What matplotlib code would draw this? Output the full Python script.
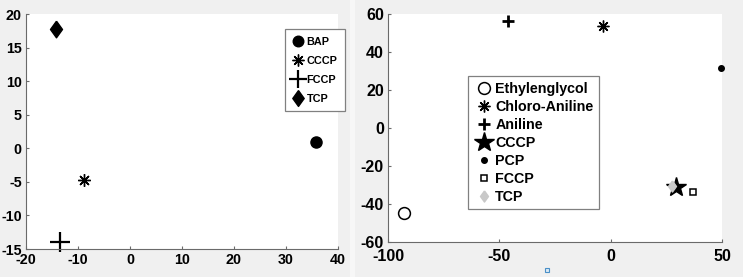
import matplotlib
matplotlib.use("Agg")
import matplotlib.pyplot as plt
from matplotlib.patches import Rectangle

plt.rcParams['font.family'] = ['Liberation Sans', 'DejaVu Sans']
plt.rcParams['font.weight'] = 'bold'
plt.rcParams['axes.unicode_minus'] = False

# ---- Left panel data ----
left_names = ["BAP", "CCCP", "FCCP", "TCP"]
left_x = [35.7, -8.8, -13.4, -14.3]
left_y = [0.9, -4.75, -13.9, 17.8]
left_xticks = [-20, -10, 0, 10, 20, 30, 40]
left_yticks = [-15, -10, -5, 0, 5, 10, 15, 20]

# ---- Right panel data ----
right_names = ["Ethylenglycol", "Chloro-Aniline", "Aniline", "CCCP", "PCP", "FCCP", "TCP"]
right_x = [-92.6, -3.5, -45.9, 29.3, 49.6, 36.8, 27.6]
right_y = [-44.9, 53.5, 56.1, -31.2, 31.8, -33.5, -30.4]
right_xticks = [-100, -50, 0, 50]
right_yticks = [-60, -40, -20, 0, 20, 40, 60]

W, H = 743, 277
fig = plt.figure(figsize=(W / 100, H / 100), dpi=100, facecolor='#f0f0f0')

# separator strip between the two images
fig.patches.append(Rectangle((350 / W, 0), 5 / W, 1, transform=fig.transFigure,
                             facecolor='#f7f7f7', edgecolor='none', zorder=0))

def fx(px):
    return px / W

def fy(py):
    return 1 - py / H

diamond = [(0, 1), (0.72, 0), (0, -1), (-0.72, 0), (0, 1)]

def style_axes(ax, size, xpad, ypad):
    for s in ['top', 'right']:
        ax.spines[s].set_visible(False)
    for s in ['left', 'bottom']:
        ax.spines[s].set_color('#6a6a6a')
        ax.spines[s].set_linewidth(0.8)
    ax.tick_params(direction='in', length=2.5, width=0.8, color='#6a6a6a',
                   labelsize=size, labelcolor='black')
    ax.tick_params(axis='x', pad=xpad)
    ax.tick_params(axis='y', pad=ypad)
    plt.setp(ax.get_xticklabels() + ax.get_yticklabels(), fontweight='bold')

# ---------------- Left axes ----------------
axL = fig.add_axes([fx(26), fy(249), fx(338) - fx(26), fy(14) - fy(249)])
left_styles = [
    dict(marker='o', ms=8, mfc='black', mec='black'),
    dict(marker=(8, 2, 0), ms=9, mfc='black', mec='black', mew=1.0),
    dict(marker='+', ms=14, mfc='black', mec='black', mew=1.6),
    dict(marker=diamond, ms=12, mfc='black', mec='black'),
]
for n, x, y, st in zip(left_names, left_x, left_y, left_styles):
    axL.plot([x], [y], linestyle='none', label=n, clip_on=False, **st)
axL.set_xlim(-20, 40)
axL.set_ylim(-15, 20)
axL.set_xticks(left_xticks)
axL.set_yticks(left_yticks)
style_axes(axL, 10.3, 3, 3)
legL = axL.legend(loc='upper left', bbox_to_anchor=(fx(285), fy(29)),
                  bbox_transform=fig.transFigure, borderaxespad=0,
                  prop={'size': 7.8, 'weight': 'bold'}, fancybox=False,
                  edgecolor='#808080', framealpha=1, handlelength=1.0,
                  handletextpad=0.3, labelspacing=0.83, borderpad=0.7,
                  markerscale=0.95)
legL.get_frame().set_linewidth(0.9)

# ---------------- Right axes ----------------
axR = fig.add_axes([fx(388), fy(242), fx(722) - fx(388), fy(14) - fy(242)])
right_styles = [
    dict(marker='o', ms=8.5, mfc='white', mec='black', mew=1.1),
    dict(marker=(8, 2, 0), ms=8.5, mfc='black', mec='black', mew=1.0),
    dict(marker='+', ms=9, mfc='black', mec='black', mew=2.0),
    dict(marker='*', ms=15, mfc='black', mec='black'),
    dict(marker='o', ms=4, mfc='black', mec='black'),
    dict(marker='s', ms=5, mfc='white', mec='black', mew=1.1),
    dict(marker=diamond, ms=8, mfc='#c8c8c8', mec='#c8c8c8'),
]
for n, x, y, st in zip(right_names, right_x, right_y, right_styles):
    axR.plot([x], [y], linestyle='none', label=n, clip_on=False, **st)
axR.set_xlim(-100, 50)
axR.set_ylim(-60, 60)
axR.set_xticks(right_xticks)
axR.set_yticks(right_yticks)
style_axes(axR, 11.5, 5, 3)
legR = axR.legend(loc='upper left', bbox_to_anchor=(fx(468), fy(76)),
                  bbox_transform=fig.transFigure, borderaxespad=0,
                  prop={'size': 10.3, 'weight': 'bold'}, fancybox=False,
                  edgecolor='#808080', framealpha=1, handlelength=1.4,
                  handletextpad=0.1, labelspacing=0.28, borderpad=0.4)
legR.get_frame().set_linewidth(0.9)

# small blue selection handle below right axes
fig.patches.append(Rectangle((fx(545), fy(272)), 4 / W, 4 / H, transform=fig.transFigure,
                             facecolor='#dce9f5', edgecolor='#4a90c8', linewidth=0.8))

fig.savefig('out.png', dpi=100, facecolor=fig.get_facecolor())
